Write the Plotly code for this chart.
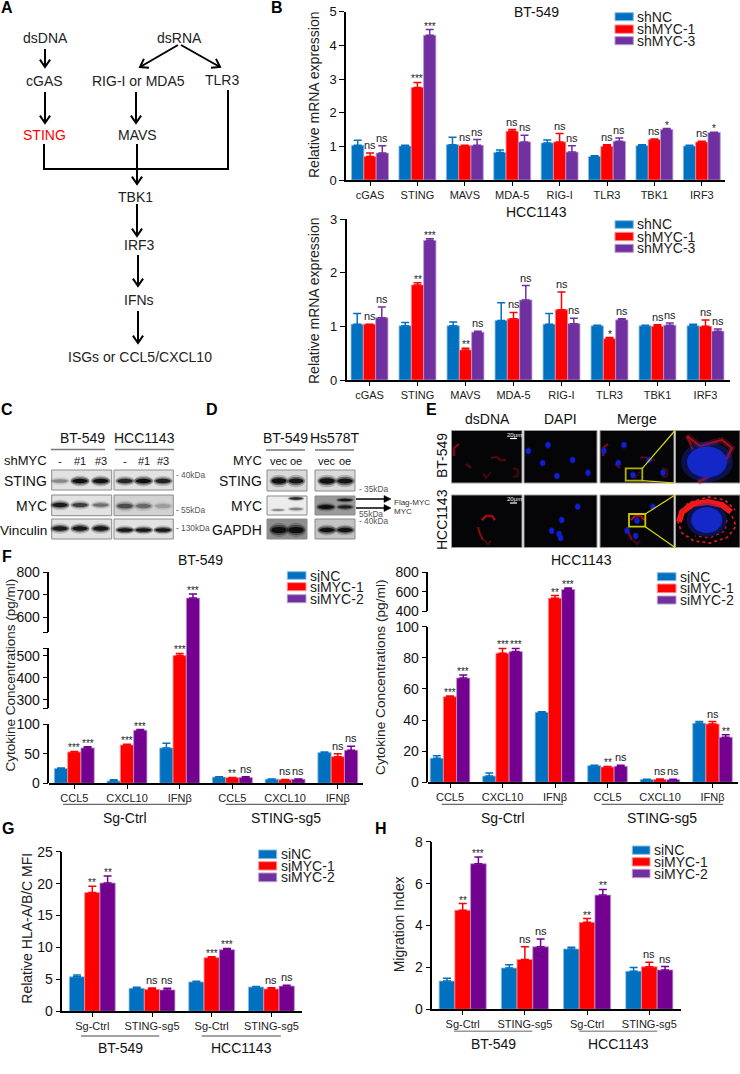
import numpy as np
import plotly.graph_objects as go

W, H = 740, 1074
FONT = "Liberation Sans"
BLUE, RED, PURPLE, PURPLE2 = "#0070C0", "#FF0000", "#7030A0", "#74008F"
EDGE = {BLUE: "#8FBCE0", RED: "#FF8A8A", PURPLE: "#B79AD0", PURPLE2: "#B79AD0"}

# ---------- panel B, BT-549 ----------
B_GENES = ["cGAS", "STING", "MAVS", "MDA-5", "RIG-I", "TLR3", "TBK1", "IRF3"]
B1_shNC = [1.03, 1.01, 1.05, 0.82, 1.10, 0.70, 1.02, 1.01]
B1_shNC_top = [1.18, 1.03, 1.27, 0.89, 1.19, 0.72, 1.05, 1.03]
B1_sh1 = [0.70, 2.75, 1.02, 1.45, 1.13, 1.00, 1.20, 1.13]
B1_sh1_top = [0.80, 2.90, 1.03, 1.50, 1.38, 1.05, 1.22, 1.15]
B1_sh3 = [0.80, 4.30, 1.03, 1.13, 0.83, 1.15, 1.50, 1.41]
B1_sh3_top = [1.02, 4.47, 1.20, 1.33, 1.02, 1.25, 1.53, 1.42]
B1_sig1 = ["ns", "***", "ns", "ns", "ns", "ns", "ns", "ns"]
B1_sig3 = ["ns", "***", "ns", "ns", "ns", "ns", "*", "*"]
# ---------- panel B, HCC1143 ----------
B2_shNC = [1.04, 1.01, 1.01, 1.11, 1.04, 1.01, 1.01, 1.01]
B2_shNC_top = [1.24, 1.07, 1.08, 1.44, 1.24, 1.02, 1.02, 1.04]
B2_sh1 = [1.04, 1.77, 0.56, 1.14, 1.31, 0.77, 1.00, 1.00]
B2_sh1_top = [1.04, 1.81, 0.59, 1.26, 1.64, 0.79, 1.03, 1.12]
B2_sh3 = [1.16, 2.60, 0.89, 1.49, 1.05, 1.12, 1.02, 0.91]
B2_sh3_top = [1.36, 2.63, 0.91, 1.76, 1.15, 1.14, 1.06, 0.95]
B2_sig1 = ["ns", "**", "**", "ns", "ns", "*", "ns", "ns"]
B2_sig3 = ["ns", "***", "ns", "ns", "ns", "ns", "ns", "ns"]
# ---------- panel F, BT-549 ----------
F_CATS = ["CCL5", "CXCL10", "IFNβ", "CCL5", "CXCL10", "IFNβ"]
F1_NC = [25, 4, 60, 10.5, 7, 52]
F1_NC_top = [26, 6, 68, 11, 7.5, 53]
F1_si1 = [53, 65, 500, 9.5, 6, 45]
F1_si1_top = [54, 66, 510, 10, 6.5, 50]
F1_si2 = [60, 90, 685, 10, 7, 56]
F1_si2_top = [62, 91, 703, 11, 7.5, 63]
F1_sig1 = ["***", "***", "***", "**", "ns", "ns"]
F1_sig2 = ["***", "***", "***", "ns", "ns", "ns"]
# ---------- panel F, HCC1143 ----------
F2_NC = [15.5, 4, 45, 10.7, 1.8, 38]
F2_NC_top = [17, 6, 45.3, 11, 2, 39]
F2_si1 = [55, 83, 533, 9.8, 1.8, 37.5]
F2_si1_top = [55.5, 86, 560, 10.2, 2.2, 39]
F2_si2 = [67, 84, 622, 10.3, 1.7, 29]
F2_si2_top = [69, 86, 638, 11, 2, 30.5]
F2_sig1 = ["***", "***", "**", "**", "ns", "ns"]
F2_sig2 = ["***", "***", "***", "ns", "ns", "**"]
# ---------- panel G ----------
GH_CATS = ["Sg-Ctrl", "STING-sg5", "Sg-Ctrl", "STING-sg5"]
G_NC = [5.4, 3.6, 4.6, 3.8]
G_NC_top = [5.7, 3.75, 4.7, 3.9]
G_si1 = [18.6, 3.45, 8.4, 3.5]
G_si1_top = [19.6, 3.65, 8.55, 3.7]
G_si2 = [20.1, 3.35, 9.65, 3.95]
G_si2_top = [21.2, 3.6, 9.85, 4.1]
G_sig1 = ["**", "ns", "***", "ns"]
G_sig2 = ["**", "ns", "***", "ns"]
# ---------- panel H ----------
H_NC = [1.35, 1.97, 2.88, 1.82]
H_NC_top = [1.48, 2.13, 2.96, 2.0]
H_si1 = [4.73, 2.38, 4.15, 2.03]
H_si1_top = [5.05, 2.98, 4.33, 2.24]
H_si2 = [6.95, 2.98, 5.45, 1.88]
H_si2_top = [7.27, 3.35, 5.72, 2.04]
H_sig1 = ["**", "ns", "**", "ns"]
H_sig2 = ["***", "ns", "**", "ns"]
# ---------- broken-axis knots (value -> height above the baseline) ----------
F1_KNOT_V = [0, 100, 262, 533, 534, 800]
F1_KNOT_H = [0, 59, 75, 135, 151.3, 211]
F2_KNOT_V = [0, 100, 400, 800]
F2_KNOT_H = [0, 155.6, 171.3, 210]
# ---------- blot band strengths per lane ----------
C_STING_L, C_STING_R = [0.3, 1.0, 1.0], [0.8, 1.0, 0.85]
C_MYC_L, C_MYC_R = [0.9, 0.65, 0.4], [0.55, 0.4, 0.18]
C_VINC_L, C_VINC_R = [0.9, 0.95, 0.95], [0.95, 0.95, 0.95]
D_STING_L, D_STING_R = [1.0, 0.95], [1.0, 0.95]
D_GAPDH_L, D_GAPDH_R = [1.0, 1.0], [1.0, 0.95]

shapes, annots = [], []
fig = go.Figure()


def X(x):
    return x / W


def Y(y):
    return 1 - y / H


def text(x, y, s, size=13, anchor="center", color="#111111", angle=0, bold=False):
    annots.append(dict(xref="paper", yref="paper", x=X(x), y=Y(y), text=f"<b>{s}</b>" if bold else s,
                       showarrow=False, xanchor=anchor, yanchor="middle", textangle=angle, borderpad=0,
                       font=dict(family=FONT, size=size, color=color)))


def path(points, color="black", width=2, opacity=1.0, dash="solid", fill=None):
    d = "M " + " L ".join(f"{X(a):.5f} {Y(b):.5f}" for a, b in points)
    sh = dict(type="path", xref="paper", yref="paper", path=d + (" Z" if fill else ""), opacity=opacity,
              line=dict(color=color, width=width, dash=dash))
    if fill:
        sh["fillcolor"] = fill
    shapes.append(sh)


def rect(x0, y0, x1, y1, fill, line=None, width=1, opacity=1.0):
    shapes.append(dict(type="rect", xref="paper", yref="paper", x0=X(x0), x1=X(x1), y0=Y(y0), y1=Y(y1),
                       fillcolor=fill, opacity=opacity,
                       line=dict(color=line or fill, width=width if line else 0)))


def ellipse(cx, cy, rx, ry, fill, opacity=1.0):
    shapes.append(dict(type="circle", xref="paper", yref="paper", x0=X(cx - rx), x1=X(cx + rx),
                       y0=Y(cy - ry), y1=Y(cy + ry), fillcolor=fill, opacity=opacity, line=dict(width=0)))


def arrow(x0, y0, x1, y1, head=9, width=2):
    a = np.arctan2(y1 - y0, x1 - x0)
    path([(x0, y0), (x1, y1)], width=width)
    path([(x1 - head * np.cos(a - 0.6), y1 - head * np.sin(a - 0.6)), (x1, y1),
          (x1 - head * np.cos(a + 0.6), y1 - head * np.sin(a + 0.6))], width=width)


def legend(x0, x1, rows, names, colors, size=13):
    for (y0, y1), n, c in zip(rows, names, colors):
        rect(x0, y0, x1, y1, c, line=EDGE.get(c, c), width=1)
        text(x1 + 3, (y0 + y1) / 2, n, size=size, anchor="left", color="#222222")


ax_id = {"n": 1, "k": 60}


def panel(cats, series, tops, sigs, colors, left, right, top, bottom, first, spacing, bar_px, ymax=None,
          yticks=None, knots=None, segs=None, xsize=11, ysize=13, ns_size=11, star_size=10, names=None):
    ax_id["n"] += 1
    n = ax_id["n"]
    xa, ya = f"x{n}", f"y{n}"
    f = (lambda v: float(np.interp(v, knots[0], knots[1]))) if knots else (lambda v: float(v))
    w = bar_px / spacing
    for s, (vals, tp, c) in enumerate(zip(series, tops, colors)):
        fig.add_trace(go.Bar(x=list(range(len(cats))), y=[f(v) for v in vals], width=w, offset=(s - 1.5) * w,
                             name=names[s] if names else None, showlegend=False, hoverinfo="skip",
                             marker=dict(color=c, line=dict(color=EDGE[c], width=0.8)),
                             error_y=dict(type="data", symmetric=False, array=[f(t) - f(v) for v, t in zip(vals, tp)],
                                          arrayminus=[0] * len(cats), color=c, thickness=1.5, width=4),
                             xaxis=xa, yaxis=ya))
    for s, lab in sigs.items():
        for i, t in enumerate(lab):
            if t is None:
                continue
            star = "*" in t
            annots.append(dict(xref=xa, yref=ya, x=i + (s - 1) * w, y=f(tops[s][i]), text=t, showarrow=False,
                               xanchor="center", yanchor="bottom", yshift=-3 if star else 1, borderpad=0,
                               font=dict(family=FONT, size=star_size if star else ns_size, color="#222222")))
    axis_common = dict(showline=True, linecolor="black", linewidth=1.5, ticks="outside", tickwidth=1.3,
                       tickcolor="black", showgrid=False, zeroline=False)
    layout_update = {}
    layout_update[f"xaxis{n}"] = dict(domain=[X(left), X(right)], range=[(left - first) / spacing, (right - first) / spacing],
                                      tickmode="array", tickvals=list(range(len(cats))), ticktext=cats, ticklen=4,
                                      anchor=ya, tickfont=dict(family=FONT, size=xsize, color="#222222"), **axis_common)
    if knots is None:
        layout_update[f"yaxis{n}"] = dict(domain=[Y(bottom), Y(top)], range=[0, ymax], tickmode="array", tickvals=yticks,
                                          ticklen=5, anchor=xa, tickfont=dict(family=FONT, size=ysize, color="#111111"),
                                          **axis_common)
    else:
        layout_update[f"yaxis{n}"] = dict(domain=[Y(bottom), Y(top)], range=[0, bottom - top], visible=False, anchor=xa)
        for (ptop, pbot, lo, hi, tv, tt) in segs:
            ax_id["k"] += 1
            k = ax_id["k"]
            fig.add_trace(go.Scatter(x=[0], y=[lo], mode="markers", marker=dict(opacity=0), showlegend=False,
                                     hoverinfo="skip", xaxis=xa, yaxis=f"y{k}"))
            layout_update[f"yaxis{k}"] = dict(domain=[Y(pbot), Y(ptop)], range=[lo, hi], tickmode="array", tickvals=tv,
                                              ticktext=tt, ticklen=5, anchor=xa,
                                              tickfont=dict(family=FONT, size=ysize, color="#111111"), **axis_common)
    fig.update_layout(**layout_update)


# ---------- charts ----------
panel(B_GENES, [B1_shNC, B1_sh1, B1_sh3], [B1_shNC_top, B1_sh1_top, B1_sh3_top], {1: B1_sig1, 2: B1_sig3},
      [BLUE, RED, PURPLE], 346, 725, 11.7, 180, 370, 47.4, 12.3, ymax=5, yticks=[0, 1, 2, 3, 4, 5])
panel(B_GENES, [B2_shNC, B2_sh1, B2_sh3], [B2_shNC_top, B2_sh1_top, B2_sh3_top], {1: B2_sig1, 2: B2_sig3},
      [BLUE, RED, PURPLE], 346.7, 730, 219, 380, 369.5, 48, 12.3, ymax=3, yticks=[0, 1, 2, 3])
panel(F_CATS, [F1_NC, F1_si1, F1_si2], [F1_NC_top, F1_si1_top, F1_si2_top], {1: F1_sig1, 2: F1_sig2},
      [BLUE, RED, PURPLE2], 49.3, 363, 572.3, 783.3, 74.3, 52.7, 13.3, knots=(F1_KNOT_V, F1_KNOT_H), ysize=14,
      segs=[(724.3, 783.3, 0, 100, [0, 50, 100], ["0", "50", "100"]),
            (648.3, 708.3, 262, 533, [262, 300, 400, 500, 533], ["", "300", "400", "500", ""]),
            (572.3, 632, 534, 800, [534, 600, 700, 800], ["", "600", "700", "800"])])
panel(F_CATS, [F2_NC, F2_si1, F2_si2], [F2_NC_top, F2_si1_top, F2_si2_top], {1: F2_sig1, 2: F2_sig2},
      [BLUE, RED, PURPLE2], 428.3, 738, 572.3, 782.3, 450, 52.5, 13.2, knots=(F2_KNOT_V, F2_KNOT_H), ysize=14,
      segs=[(626.7, 782.3, 0, 100, [0, 20, 40, 60, 80, 100], ["0", "20", "40", "60", "80", "100"]),
            (572.3, 611, 400, 800, [400, 600, 800], ["400", "600", "800"])])
panel(GH_CATS, [G_NC, G_si1, G_si2], [G_NC_top, G_si1_top, G_si2_top], {1: G_sig1, 2: G_sig2},
      [BLUE, RED, PURPLE2], 62.3, 302.3, 851.7, 1011.3, 92.3, 59.7, 15.3, ymax=25, yticks=[0, 5, 10, 15, 20, 25], ysize=14)
panel(GH_CATS, [H_NC, H_si1, H_si2], [H_NC_top, H_si1_top, H_si2_top], {1: H_sig1, 2: H_sig2},
      [BLUE, RED, PURPLE2], 432.3, 681, 841.7, 1009.3, 462.7, 62.2, 15.7, ymax=8, yticks=[0, 2, 4, 6, 8], ysize=14)

# chart titles / axis titles
text(536.7, 12, "BT-549", 14)
text(536.7, 212, "HCC1143", 14)
text(200.7, 560, "BT-549", 14)
text(581.7, 560, "HCC1143", 14)
text(314, 95, "Relative mRNA expression", 14, angle=-90, color="#222222")
text(314, 301, "Relative mRNA expression", 14, angle=-90, color="#222222")
text(9.5, 675, "Cytokine Concentrations (pg/ml)", 13.5, angle=-90, color="#222222")
text(380, 677, "Cytokine Concentrations (pg/ml)", 13.7, angle=-90, color="#222222")
text(26.7, 928, "Relative HLA-A/B/C MFI", 14, angle=-90, color="#222222")
text(399.3, 924, "Migration Index", 14, angle=-90, color="#222222")

# legends
SH = ["shNC", "shMYC-1", "shMYC-3"]
SI = ["siNC", "siMYC-1", "siMYC-2"]
LC = [BLUE, RED, PURPLE]
legend(615, 633.3, [(12.7, 20.7), (25, 33.3), (36.7, 44.7)], SH, LC, 14)
legend(615, 633.3, [(220.7, 228.3), (232.3, 240.7), (244.3, 252.3)], SH, LC, 14)
legend(287.3, 306, [(571.7, 579.3), (582.7, 590.7), (594.7, 602.7)], SI, LC, 14)
legend(657.3, 676, [(572.7, 580.7), (584, 592.7), (596, 604)], SI, LC, 14)
legend(258.7, 276.7, [(850, 858.7), (861.7, 870), (873, 881.7)], SI, LC, 14)
legend(632.3, 650, [(846, 854.3), (857.7, 866), (869.3, 877.7)], SI, LC, 14)

# group brackets
for x0, x1, lab in [(63, 186.7, "Sg-Ctrl"), (225.7, 346.7, "STING-sg5")]:
    path([(x0, 804.3), (x1, 804.3)], color="#444444", width=1)
    text((x0 + x1) / 2, 818, lab, 14)
for x0, x1, lab in [(441.7, 563.3, "Sg-Ctrl"), (601.7, 723, "STING-sg5")]:
    path([(x0, 804.3), (x1, 804.3)], color="#444444", width=1)
    text((x0 + x1) / 2, 818, lab, 14)
for x0, x1, lab in [(81, 159.3, "BT-549"), (201.7, 280.7, "HCC1143")]:
    path([(x0, 1036), (x1, 1036)], color="#444444", width=1)
    text((x0 + x1) / 2, 1048, lab, 14)
for x0, x1, lab in [(454, 532.3, "BT-549"), (579.3, 657.3, "HCC1143")]:
    path([(x0, 1031.3), (x1, 1031.3)], color="#999999", width=1.5)
    text((x0 + x1) / 2, 1044, lab, 14)

# panel letters
for x, y, s in [(7, 7, "A"), (277, 7, "B"), (7, 409, "C"), (212, 409, "D"), (431, 409, "E"),
                (7, 556, "F"), (8, 828, "G"), (381, 828, "H")]:
    text(x, y, s, 16, bold=True, color="black")

# ---------- panel A ----------
for x, y, s, c in [(45, 38, "dsDNA", "#222222"), (179.5, 38, "dsRNA", "#222222"), (44.5, 81, "cGAS", "#222222"),
                   (138, 81, "RIG-I or MDA5", "#222222"), (222, 80, "TLR3", "#222222"), (44.5, 135, "STING", "#FF0000"),
                   (137, 135, "MAVS", "#222222"), (135, 197, "TBK1", "#222222"), (139, 245, "IRF3", "#222222"),
                   (139, 300, "IFNs", "#222222"), (140, 357, "ISGs or CCL5/CXCL10", "#222222")]:
    text(x, y, s, 14, color=c)
arrow(45, 49, 45, 67)
arrow(45, 92, 45, 123)
arrow(178, 45, 140, 67)
arrow(181, 45, 220, 67)
arrow(136, 92, 136, 123)
path([(44, 144), (44, 169), (228, 169), (228, 90)])
arrow(137, 144, 137, 184)
arrow(137, 204, 137, 236)
arrow(138, 255, 138, 286)
arrow(138, 311, 138, 343)


# ---------- blots ----------
def band(cx, cy, w, h, d, color="#0c0c0c"):
    ellipse(cx, cy, w / 2, h * 0.9, color, 0.2 * d)
    ellipse(cx, cy, w * 0.46, h * 0.62, color, 0.45 * d)
    ellipse(cx, cy, w * 0.38, h * 0.38, color, 0.95 * d)


def blot(x0, y0, x1, y1, lanes, ys, strengths, w=20, h=4, bg="#E2E2E2"):
    rect(x0, y0, x1, y1, bg, line="#8C8C8C", width=1)
    for lx, s in zip(lanes, strengths):
        band(lx, ys, w, h + 2 * s, s)


LC_L, LC_R = [60, 80, 100.7], [125, 143.5, 163]
text(82, 438, "BT-549", 14)
text(144, 438, "HCC1143", 14)
path([(51, 449.5), (105, 449.5)], color="#777777", width=1.6)
path([(115, 449.5), (174, 449.5)], color="#777777", width=1.6)
text(48, 461, "shMYC", 13, anchor="right")
for x, s in zip(LC_L + LC_R, ["-", "#1", "#3", "-", "#1", "#3"]):
    text(x, 461, s, 11)
for y, s, sz in [(481, "STING", 14), (506, "MYC", 14), (530, "Vinculin", 13.6)]:
    text(48, y, s, sz, anchor="right")
blot(51.7, 470, 111.7, 490, LC_L, 481, C_STING_L)
blot(114, 470, 173.3, 490, LC_R, 481, C_STING_R)
blot(51.7, 495, 111.7, 515.7, LC_L, 505, C_MYC_L)
blot(114, 495, 173.3, 515.7, LC_R, 506, C_MYC_R, h=5, bg="#D2D2D2")
blot(51.7, 519, 111.7, 539, LC_L, 528.5, C_VINC_L)
blot(114, 519, 173.3, 539, LC_R, 530, C_VINC_R, h=3)
text(175, 475, "- 40kDa", 8.3, anchor="left", color="#555555")
text(175, 510, "- 55kDa", 8.3, anchor="left", color="#555555")
text(174.5, 528, "- 130kDa", 8.3, anchor="left", color="#555555")

LD_L, LD_R = [279, 296], [327, 345]
text(285, 438, "BT-549", 14)
text(334, 438, "Hs578T", 14)
path([(266, 450), (305, 450)], color="#777777", width=1.6)
path([(315, 450), (354, 450)], color="#777777", width=1.6)
text(263, 461, "MYC", 13, anchor="right")
for x, s in zip(LD_L + LD_R, ["vec", "oe", "vec", "oe"]):
    text(x, 461, s, 11)
for y, s in [(481, "STING"), (506, "MYC"), (530, "GAPDH")]:
    text(263, y, s, 14, anchor="right")
blot(267, 470, 307, 491, LD_L, 481, D_STING_L, w=19, h=5, bg="#DADADA")
blot(315, 470, 355, 491, LD_R, 481, D_STING_R, w=20, h=5, bg="#DADADA")
rect(267, 496, 307, 515, "#ECECEC", line="#8C8C8C")
band(278, 510, 16, 2.5, 0.3)
band(296, 498.5, 17, 3, 0.8)
band(296, 509, 17, 3, 0.35)
rect(315, 496, 355, 515, "#9A9A9A", line="#8C8C8C")
band(326, 507, 20, 5, 1.0)
band(345, 500, 18, 3, 0.9)
band(345, 507, 18, 4, 0.8)
blot(267, 519, 307, 539, LD_L, 530, D_GAPDH_L, w=20, h=6, bg="#8E8E8E")
blot(315, 519, 355, 539, LD_R, 530, D_GAPDH_R, w=20, h=4, bg="#C4C4C4")
text(358, 489, "- 35kDa", 8.3, anchor="left", color="#555555")
text(358, 514, "55kDa", 8.3, anchor="left", color="#555555")
text(358, 521, "- 40kDa", 8.3, anchor="left", color="#555555")
for y, s, ty in [(499, "Flag-MYC", 502), (508, "MYC", 511)]:
    path([(356, y), (385, y)], width=1.5)
    path([(384, y - 3.5), (391, y), (384, y + 3.5)], fill="black", width=0.5)
    text(393, ty, s, 8, anchor="left", color="#333333")

# ---------- panel E ----------
text(487, 419, "dsDNA", 14)
text(560, 419, "DAPI", 14)
text(637, 419, "Merge", 14)
text(442, 456, "BT-549", 14, angle=-90)
text(442, 520, "HCC1143", 14, angle=-90)
for y0, y1 in [(430.5, 483), (495, 547.5)]:
    for x0, x1 in [(451.5, 522), (524, 597), (600, 674), (675.5, 740)]:
        rect(x0, y0, x1, y1, "#050508", line="#9A9A9A", width=1)
    text(514, y0 + 4, "20μm", 6, color="white")
    path([(510, y0 + 8), (517, y0 + 8)], color="white", width=1.2)

RED_ROW1 = [[(454, 456), (454, 448), (459, 444)], [(466, 464), (471, 468)], [(491, 458), (497, 457), (500, 460), (506, 460)],
            [(483, 473), (486, 478), (491, 472)], [(513, 468), (518, 470), (518, 476), (513, 477)]]
RED_ROW2 = [[(482, 520), (486, 516), (492, 516), (495, 520)], [(478, 527), (480, 534), (483, 540)], [(484, 540), (488, 544), (491, 541)]]
OP1 = [0.8, 0.5, 0.45, 0.3, 0.35]
OP2 = [0.95, 0.6, 0.3]
for shift in (0, 149):
    for seg, o in zip(RED_ROW1, OP1):
        moved = [(a + shift, b) for a, b in seg]
        path(moved, color="#C01020", width=3, opacity=o * 0.4)
        path(moved, color="#C81020", width=1, opacity=o)
    for seg, o in zip(RED_ROW2, OP2):
        moved = [(a + shift, b) for a, b in seg]
        path(moved, color="#D01020", width=3, opacity=o * 0.4)
        path(moved, color="#E01020", width=1.2, opacity=o)


def blob(cx, cy, rx, ry, color="#1020D8"):
    ellipse(cx, cy, rx * 1.3, ry * 1.3, color, 0.35)
    ellipse(cx, cy, rx, ry, color, 1.0)


DAPI_1 = [(528.3, 451), (548, 445), (542.7, 463), (572.7, 460), (557, 476), (588, 472.7)]
DAPI_2 = [(577.7, 506.7), (561.7, 520), (551.7, 530.7), (559, 534), (560.7, 538)]
MERGE_1 = [(604, 451), (624, 445), (618.3, 463), (649, 460), (633, 475), (663, 472.7)]
MERGE_2 = [(653, 507), (637, 520.7), (627, 530.7), (635.7, 536)]
for c in DAPI_1 + MERGE_1:
    blob(c[0], c[1], 2.4, 2.8)
for c in DAPI_2 + MERGE_2:
    blob(c[0], c[1], 2.4, 2.8)

# yellow zoom boxes
rect(625.7, 468.3, 642.3, 480.7, "rgba(0,0,0,0)", line="#B0B000", width=1.8)
rect(629, 514, 645.3, 526.7, "rgba(0,0,0,0)", line="#C8C800", width=1.8)
for a, b in [((642.3, 468.3), (675, 430.5)), ((642.3, 480.7), (675, 483)), ((645.3, 514), (675, 495)), ((645.3, 526.7), (675, 547.5))]:
    path([a, b], color="#D8D800", width=1.2)

# magnified cells
CELL_OUTLINE = [(687, 436), (700, 446), (722, 440), (732, 448), (725, 462), (706, 478), (698, 482)]
path(CELL_OUTLINE, color="#A01428", width=6, opacity=0.35)
path(CELL_OUTLINE, color="#C01428", width=2.2, opacity=0.75)
path([(687, 436), (693, 450)], color="#B81428", width=2.5, opacity=0.6)
blob(707, 462, 20, 15.5, "#1428C8")
path([(679, 522), (682, 512), (693, 504), (708, 502), (722, 505), (731, 512)], color="#F01818", width=6)
path([(680, 516), (688, 503), (708, 497), (725, 500), (735, 510)], color="#E01818", width=1.8, dash="dot")
path([(732, 516), (736, 526), (728, 537), (710, 543), (694, 541), (682, 533), (678, 522)], color="#D81818", width=1.8, dash="dot")
path([(727, 520), (725, 531), (710, 538), (695, 536)], color="#B81818", width=1.4, dash="dot")
blob(706.7, 520, 15.5, 13, "#1428C8")

fig.update_layout(width=W, height=H, margin=dict(l=0, r=0, t=0, b=0, autoexpand=False), paper_bgcolor="white",
                  plot_bgcolor="rgba(0,0,0,0)", showlegend=False, barmode="overlay", shapes=shapes, annotations=annots,
                  font=dict(family=FONT))
fig.write_html("out.html", config=dict(displayModeBar=False), post_script="document.body.style.margin='0';")
